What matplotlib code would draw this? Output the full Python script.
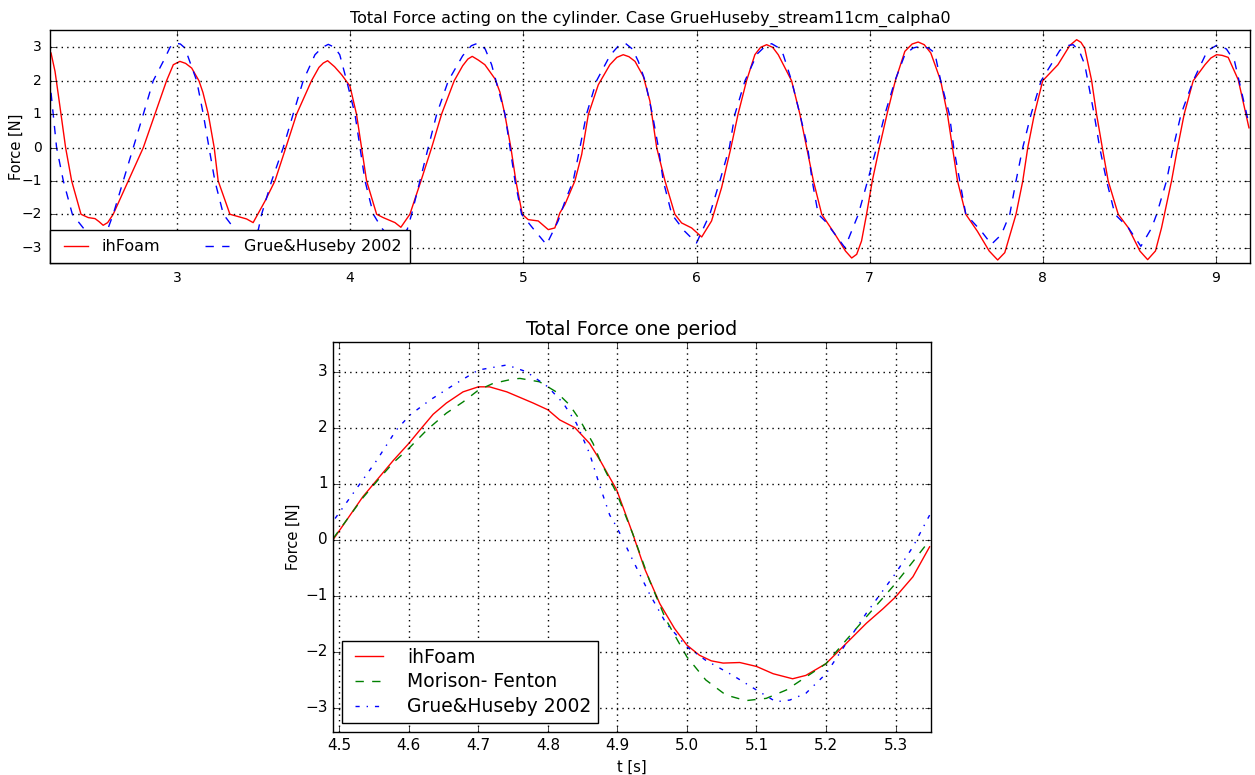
import matplotlib
matplotlib.use("Agg")
import matplotlib.pyplot as plt
from matplotlib.transforms import Bbox

plt.style.use('classic')
plt.rcParams['font.family'] = ['DejaVu Sans']

# ---------------- data: full record ----------------
t_foam = [2.273, 2.296, 2.315, 2.357, 2.392, 2.446, 2.488, 2.527, 2.55, 2.574,
          2.60, 2.632, 2.719, 2.806, 2.873, 2.94, 2.979, 3.017, 3.05, 3.085,
          3.127, 3.15, 3.181, 3.215, 3.238, 3.306, 3.354, 3.402, 3.44, 3.508,
          3.566, 3.629, 3.691, 3.777, 3.82, 3.845, 3.87, 3.91, 3.951, 3.999,
          4.037, 4.066, 4.095, 4.153, 4.191, 4.259, 4.293, 4.345, 4.409, 4.471,
          4.528, 4.601, 4.65, 4.68, 4.705, 4.74, 4.778, 4.836, 4.865, 4.893,
          4.928, 4.957, 4.994, 5.028, 5.086, 5.144, 5.182, 5.211, 5.24, 5.298,
          5.337, 5.375, 5.433, 5.50, 5.54, 5.577, 5.61, 5.645, 5.693, 5.731,
          5.77, 5.818, 5.875, 5.914, 5.972, 6.03, 6.087, 6.145, 6.199, 6.24,
          6.289, 6.337, 6.37, 6.405, 6.44, 6.472, 6.549, 6.597, 6.636, 6.675,
          6.723, 6.8, 6.86, 6.896, 6.925, 6.953, 6.982, 7.015, 7.056, 7.1,
          7.148, 7.203, 7.245, 7.28, 7.315, 7.353, 7.41, 7.449, 7.478, 7.507,
          7.555, 7.622, 7.69, 7.739, 7.78, 7.816, 7.845, 7.884, 7.913, 7.951,
          7.999, 8.087, 8.156, 8.195, 8.22, 8.242, 8.281, 8.31, 8.343, 8.377,
          8.435, 8.493, 8.56, 8.605, 8.65, 8.685, 8.743, 8.778, 8.816, 8.868,
          8.936, 8.97, 9.003, 9.035, 9.07, 9.128, 9.19]
f_foam = [2.83, 2.28, 1.58, 0.0, -1.0, -2.0, -2.1, -2.13, -2.22, -2.33,
          -2.25, -2.0, -1.0, 0.0, 1.0, 2.0, 2.48, 2.58, 2.52, 2.38,
          2.0, 1.65, 1.0, 0.0, -1.0, -2.0, -2.07, -2.14, -2.25, -1.61,
          -1.0, 0.0, 1.0, 2.0, 2.4, 2.53, 2.60, 2.42, 2.18, 1.84,
          0.99, 0.0, -1.0, -2.0, -2.1, -2.25, -2.39, -2.0, -1.0, 0.0,
          1.0, 2.0, 2.45, 2.65, 2.73, 2.62, 2.48, 2.06, 1.66, 1.0,
          0.0, -1.0, -2.0, -2.16, -2.2, -2.46, -2.41, -1.96, -1.71, -1.0,
          -0.21, 0.98, 1.88, 2.48, 2.7, 2.78, 2.72, 2.58, 2.13, 1.39,
          0.0, -1.0, -2.0, -2.26, -2.41, -2.68, -2.2, -1.2, 0.0, 1.0,
          2.0, 2.78, 3.0, 3.08, 3.0, 2.78, 2.0, 1.0, 0.0, -1.0,
          -2.0, -2.6, -3.1, -3.31, -3.2, -2.8, -2.0, -1.0, 0.0, 1.0,
          2.0, 2.88, 3.1, 3.16, 3.08, 2.83, 2.0, 1.0, 0.0, -1.0,
          -2.0, -2.51, -3.1, -3.37, -3.15, -2.51, -2.0, -1.0, 0.0, 1.0,
          2.0, 2.48, 3.06, 3.23, 3.15, 2.97, 2.02, 1.0, 0.0, -1.0,
          -2.0, -2.4, -3.1, -3.36, -3.1, -2.41, -1.0, 0.0, 1.0, 2.0,
          2.48, 2.68, 2.78, 2.76, 2.7, 2.03, 0.59]

t_grue = [2.273, 2.305, 2.344, 2.396, 2.459, 2.53, 2.603, 2.632, 2.69, 2.748,
          2.806, 2.863, 2.931, 2.96, 2.988, 3.02, 3.046, 3.114, 3.152, 3.185,
          3.219, 3.268, 3.335, 3.40, 3.47, 3.489, 3.547, 3.614, 3.671, 3.729,
          3.797, 3.84, 3.874, 3.91, 3.94, 3.98, 4.028, 4.057, 4.086, 4.134,
          4.182, 4.26, 4.33, 4.355, 4.403, 4.451, 4.50, 4.567, 4.65, 4.70,
          4.74, 4.78, 4.817, 4.894, 4.923, 4.952, 4.99, 5.06, 5.134, 5.201,
          5.24, 5.288, 5.327, 5.365, 5.423, 5.50, 5.55, 5.587, 5.63, 5.664,
          5.703, 5.745, 5.78, 5.808, 5.857, 5.93, 6.0, 6.077, 6.135, 6.19,
          6.222, 6.28, 6.35, 6.40, 6.434, 6.47, 6.501, 6.549, 6.597, 6.642,
          6.668, 6.703, 6.742, 6.857, 6.934, 6.988, 7.04, 7.088, 7.146, 7.203,
          7.25, 7.29, 7.34, 7.376, 7.41, 7.46, 7.485, 7.52, 7.555, 7.645,
          7.703, 7.76, 7.809, 7.845, 7.884, 7.932, 7.99, 8.098, 8.14, 8.175,
          8.21, 8.242, 8.296, 8.328, 8.368, 8.416, 8.493, 8.566, 8.628, 8.657,
          8.714, 8.753, 8.798, 8.868, 8.95, 9.01, 9.06, 9.107, 9.19]
f_grue = [1.64, 0.0, -1.0, -2.0, -2.41, -2.9, -2.41, -2.0, -1.0, 0.0,
          1.0, 2.0, 2.68, 3.0, 3.13, 3.1, 2.98, 2.0, 1.0, 0.0,
          -1.0, -2.0, -2.46, -2.9, -2.46, -2.0, -1.0, 0.0, 1.0, 2.0,
          2.78, 3.0, 3.09, 3.0, 2.78, 2.0, 1.0, 0.0, -1.0, -2.0,
          -2.41, -2.9, -2.45, -2.0, -1.0, 0.0, 1.0, 2.0, 2.75, 3.05,
          3.13, 2.95, 2.48, 1.0, 0.0, -1.0, -2.0, -2.45, -2.91, -2.2,
          -1.62, -1.0, 0.0, 1.0, 2.0, 2.75, 3.05, 3.13, 2.95, 2.58,
          2.0, 1.0, 0.0, -1.0, -2.0, -2.5, -2.86, -2.0, -1.0, 0.0,
          1.0, 2.0, 2.8, 3.05, 3.11, 3.0, 2.78, 2.0, 1.0, 0.0,
          -1.0, -2.0, -2.2, -3.0, -2.01, -1.0, 0.0, 1.0, 2.0, 2.78,
          2.98, 3.03, 2.98, 2.83, 2.0, 1.0, 0.0, -1.0, -2.0, -2.51,
          -2.9, -2.61, -2.0, -1.0, 0.0, 1.0, 2.0, 2.91, 3.05, 3.08,
          2.9, 2.48, 1.0, 0.0, -1.0, -2.0, -2.4, -2.96, -2.41, -2.0,
          -1.0, 0.0, 1.0, 2.0, 2.9, 3.08, 2.95, 2.58, 0.7]

# ---------------- data: one period ----------------
tp_foam = [4.491, 4.534, 4.558, 4.578, 4.60, 4.616, 4.635, 4.654, 4.678, 4.70,
           4.716, 4.741, 4.76, 4.779, 4.80, 4.817, 4.839, 4.86, 4.875, 4.899,
           4.922, 4.939, 4.961, 4.982, 5.0, 5.018, 5.035, 5.052, 5.076, 5.1,
           5.124, 5.152, 5.171, 5.2, 5.229, 5.258, 5.282, 5.30, 5.325, 5.349]
fp_foam = [0.0, 0.77, 1.125, 1.42, 1.72, 1.96, 2.24, 2.44, 2.64, 2.73,
           2.73, 2.64, 2.54, 2.44, 2.32, 2.14, 2.0, 1.72, 1.42, 0.89,
           0.11, -0.51, -1.14, -1.58, -1.88, -2.06, -2.16, -2.2, -2.19, -2.26,
           -2.39, -2.48, -2.42, -2.21, -1.85, -1.49, -1.23, -1.02, -0.66, -0.125]

tp_mor = [4.491, 4.534, 4.558, 4.578, 4.60, 4.626, 4.654, 4.678, 4.70, 4.721,
          4.75, 4.76, 4.788, 4.812, 4.831, 4.846, 4.865, 4.875, 4.899, 4.922,
          4.946, 4.97, 5.0, 5.027, 5.056, 5.085, 5.114, 5.143, 5.171, 5.2,
          5.229, 5.258, 5.30, 5.325, 5.349]
fp_mor = [0.02, 0.75, 1.1, 1.38, 1.63, 1.96, 2.26, 2.46, 2.67, 2.79,
          2.87, 2.88, 2.82, 2.64, 2.41, 2.14, 1.72, 1.42, 0.83, 0.11,
          -0.72, -1.43, -2.09, -2.5, -2.77, -2.87, -2.83, -2.68, -2.45, -2.21,
          -1.79, -1.375, -0.78, -0.39, -0.01]

tp_grue = [4.494, 4.52, 4.554, 4.582, 4.602, 4.63, 4.664, 4.70, 4.741, 4.769,
           4.80, 4.822, 4.841, 4.86, 4.875, 4.889, 4.899, 4.922, 4.946, 4.97,
           5.0, 5.027, 5.066, 5.1, 5.128, 5.148, 5.171, 5.2, 5.229, 5.258,
           5.30, 5.325, 5.349]
fp_grue = [0.38, 0.83, 1.42, 1.96, 2.23, 2.49, 2.76, 3.03, 3.12, 3.0,
           2.73, 2.44, 2.08, 1.54, 0.95, 0.44, 0.23, -0.36, -0.96, -1.49,
           -1.91, -2.15, -2.42, -2.68, -2.89, -2.86, -2.74, -2.39, -1.85, -1.31,
           -0.6, -0.125, 0.44]

W, H = 1255, 775
fig = plt.figure(figsize=(W / 100, H / 100), dpi=100, facecolor='white')

def px_axes(l, t, r, b):
    return fig.add_axes([l / W, 1 - b / H, (r - l) / W, (b - t) / H])

# ---------------- top axes ----------------
ax1 = px_axes(50, 30, 1250, 263)
ax1.plot(t_foam, f_foam, color='r', lw=1.0, label='ihFoam')
ax1.plot(t_grue, f_grue, color='b', lw=1.0, ls='--', label='Grue&Huseby 2002')
ax1.set_xlim(2.267, 9.196)
ax1.set_ylim(-3.46, 3.52)
ax1.set_xticks([3, 4, 5, 6, 7, 8, 9])
ax1.set_yticks([-3, -2, -1, 0, 1, 2, 3])
ax1.tick_params(labelsize=10, pad=6)
ax1.grid(True, color='k', ls=':', lw=1.0)
ax1.set_title('Total Force acting on the cylinder. Case GrueHuseby_stream11cm_calpha0',
              fontsize=11.5)
ax1.set_ylabel('Force [N]', fontsize=10.5)
ax1.yaxis.set_label_coords(-0.0215, 0.5)
lab = ax1.set_xlabel('t [s]', fontsize=10.5)
lab.set_clip_box(Bbox.from_extents(0, H - 291, W, H))
lab.set_clip_on(True)
leg1 = ax1.legend(loc='lower left', ncol=2, borderaxespad=0, fontsize=11.5,
                  handlelength=2.1, columnspacing=2.5, handletextpad=0.6,
                  borderpad=0.55)
leg1.get_frame().set_linewidth(1.0)

# ---------------- bottom axes ----------------
ax2 = px_axes(333, 342, 931, 732)
ax2.plot(tp_foam, fp_foam, color='r', lw=1.0, label='ihFoam')
ax2.plot(tp_mor, fp_mor, color='g', lw=1.0, ls='--', label='Morison- Fenton')
ax2.plot(tp_grue, fp_grue, color='b', lw=1.0, ls='-.', label='Grue&Huseby 2002')
ax2.set_xlim(4.491, 5.351)
ax2.set_ylim(-3.43, 3.53)
ax2.set_xticks([4.5, 4.6, 4.7, 4.8, 4.9, 5.0, 5.1, 5.2, 5.3])
ax2.set_yticks([-3, -2, -1, 0, 1, 2, 3])
ax2.tick_params(labelsize=11)
ax2.grid(True, color='k', ls=':', lw=1.0)
ax2.set_title('Total Force one period', fontsize=13.8)
ax2.set_ylabel('Force [N]', fontsize=10.5)
ax2.yaxis.set_label_coords(-0.054, 0.5)
ax2.set_xlabel('t [s]', fontsize=10.5)
leg2 = ax2.legend(loc='lower left', fontsize=13.5, handlelength=2.1,
                  handletextpad=1.0, borderpad=0.35, labelspacing=0.3)
leg2.get_frame().set_linewidth(1.0)

fig.savefig('out.png', dpi=100, facecolor='white')
